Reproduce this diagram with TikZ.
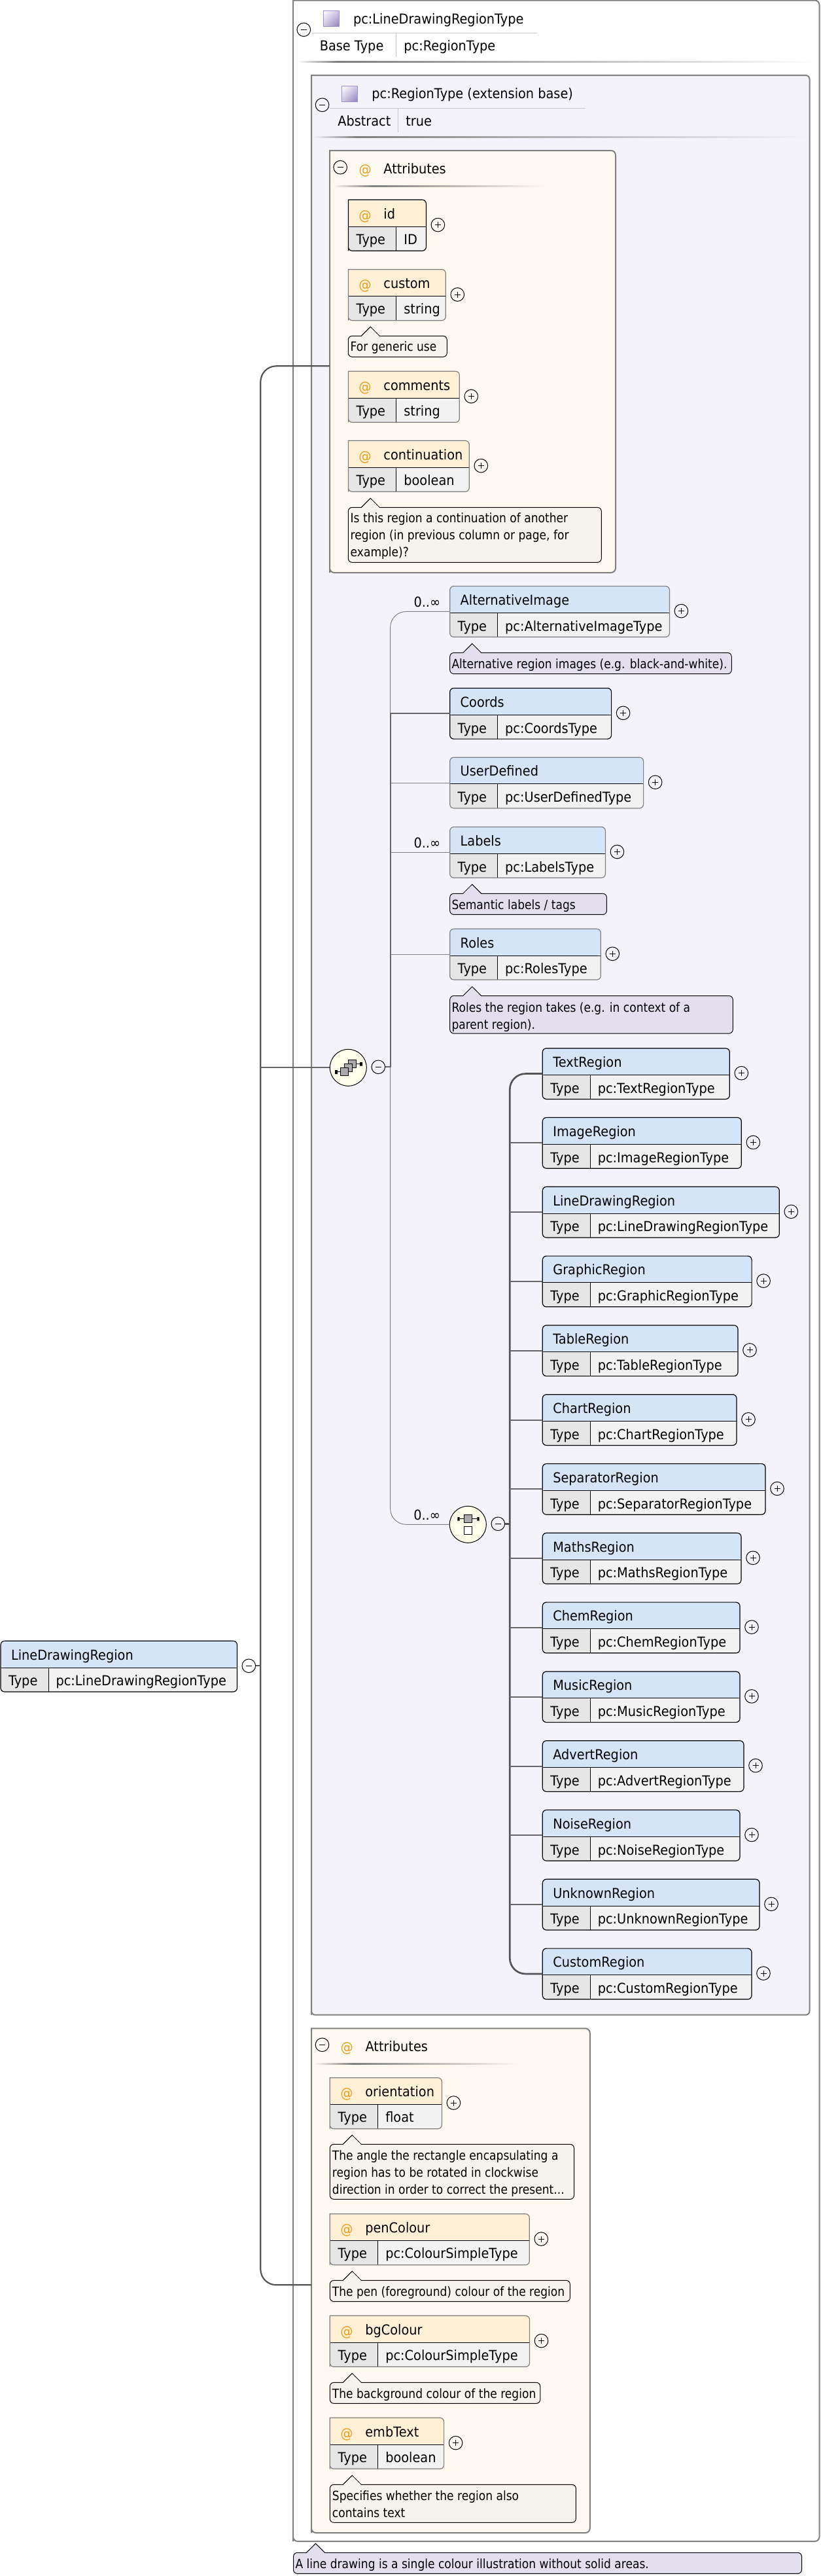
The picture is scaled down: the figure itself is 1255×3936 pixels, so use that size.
\documentclass[tikz,border=0pt]{standalone}
\usepackage{fontspec}
\usetikzlibrary{shadings}
\setmainfont{DejaVu Sans}[FakeStretch=0.92]
\newfontfamily\notefont{DejaVu Sans}[FakeStretch=0.876]
\definecolor{framegray}{HTML}{808080}
\definecolor{connc}{HTML}{666666}
\definecolor{spinec}{HTML}{555555}
\definecolor{noteA}{HTML}{F6F3EC}
\definecolor{noteB}{HTML}{E3DFEC}
\definecolor{bgpurple}{HTML}{F5F3FA}
\definecolor{cream}{HTML}{FEF9F0}
\definecolor{attrname}{HTML}{FFF0D6}
\definecolor{elname}{HTML}{D6E4F7}
\definecolor{typecell}{HTML}{E6E6E6}
\definecolor{valcell}{HTML}{F2F2F2}
\definecolor{atc}{HTML}{E8A020}
\definecolor{titleline}{HTML}{C8C8C8}
\definecolor{iconfill}{HTML}{FEFEEA}
\definecolor{icongray}{HTML}{AAAAAA}
\definecolor{swmid}{HTML}{D0C8E4}
\definecolor{swdark}{HTML}{8A7CB8}
\definecolor{swedge}{HTML}{A08FC8}
\tikzset{
  txt/.style={anchor=base west,inner sep=0pt,outer sep=0pt,font=\fontsize{21pt}{26pt}\selectfont,text=black},
  notetxt/.style={anchor=base west,inner sep=0pt,outer sep=0pt,font=\notefont\fontsize{19.5pt}{26pt}\selectfont,text=black},
  blocktxt/.style={notetxt,align=left},
  expnd/.style={circle,draw=black,line width=1pt,minimum size=20.6pt,inner sep=0pt,outer sep=0pt},
  expmark/.style={draw=black,line width=1pt},
  container/.style={draw=framegray,line width=2pt},
  conn/.style={draw=connc,line width=2pt},
  thinconn/.style={draw=framegray,line width=1pt},
  spineline/.style={draw=spinec,line width=2.7pt},
  rootline/.style={draw=spinec,line width=2.2pt},
  elcells/.style={fill=valcell,path picture={
    \fill[elname] (path picture bounding box.north west) rectangle ([yshift=-40.7pt]path picture bounding box.north east);
    \fill[typecell] ([yshift=-40.7pt]path picture bounding box.north west) rectangle ([xshift=73pt]path picture bounding box.south west);
    \draw[black,line width=1pt] ([yshift=-40.7pt]path picture bounding box.north west) -- ([yshift=-40.7pt]path picture bounding box.north east);
    \draw[black,line width=1pt] ([xshift=73pt,yshift=-40.7pt]path picture bounding box.north west) -- ([xshift=73pt]path picture bounding box.south west);
  }},
  atcells/.style={fill=valcell,path picture={
    \fill[attrname] (path picture bounding box.north west) rectangle ([yshift=-41pt]path picture bounding box.north east);
    \fill[typecell] ([yshift=-41pt]path picture bounding box.north west) rectangle ([xshift=73pt]path picture bounding box.south west);
    \draw[black,line width=1pt] ([yshift=-41pt]path picture bounding box.north west) -- ([yshift=-41pt]path picture bounding box.north east);
    \draw[black,line width=1pt] ([xshift=73pt,yshift=-41pt]path picture bounding box.north west) -- ([xshift=73pt]path picture bounding box.south west);
  }},
  elframe/.style={rectangle,rounded corners=6pt,line width=1.2pt,inner sep=0pt,outer sep=0pt,anchor=north west,elcells},
  iconbox/.style={draw=black,line width=1pt},
}
\newcommand{\plusc}[3]{\node[expnd] (#1) at ({#2},{#3}) {};
  \draw[expmark] ({#2-4.5},{#3}) -- ({#2+4.5},{#3});
  \draw[expmark] ({#2},{#3-4.5}) -- ({#2},{#3+4.5});}
\newcommand{\minusc}[3]{\node[expnd] (#1) at ({#2},{#3}) {};
  \draw[expmark] ({#2-4.5},{#3}) -- ({#2+4.5},{#3});}
% name, x, top, right, frame colour, title, type
\newcommand{\elemcore}[7]{%
  \node[elframe,draw=#5,minimum width={(#4-#2)*1pt},minimum height=77.7pt] (#1) at (#2,#3) {};
  \node[txt] (#1-name) at ({#2+16},{#3+28.7}) {#6};
  \node[txt] (#1-type) at ({#2+12},{#3+68.6}) {Type};
  \node[txt] (#1-val) at ({#2+84.5},{#3+68.6}) {#7};}
\newcommand{\elembox}[7]{\elemcore{#1}{#2}{#3}{#4}{#5}{#6}{#7}%
  \plusc{#1-plus}{#4+18}{#3+38}}
\newcommand{\attrbox}[7]{%
  \path[atcells,draw=#5,line width=1.2pt] (#2,{#3+78}) -- (#2,#3) [rounded corners=6pt] -- (#4,#3) -- (#4,{#3+78}) -- (#2,{#3+78}) [sharp corners] -- cycle;
  \node[txt,text=atc] (#1-at) at ({#2+16},{#3+30.7}) {@};
  \node[txt] (#1-name) at ({#2+54},{#3+28.7}) {#6};
  \node[txt] (#1-type) at ({#2+12.3},{#3+68}) {Type};
  \node[txt] (#1-val) at ({#2+85},{#3+68}) {#7};
  \plusc{#1-plus}{#4+18}{#3+38.3}}
% x0,y0,x1,y1,fill
\newcommand{\notebox}[5]{%
  \draw[fill=#5,draw=black,line width=1pt] ({#1+20},#2) -- ({#1+34},{#2-14}) -- ({#1+48},#2) [rounded corners=6pt] -- (#3,#2) -- (#3,#4) -- (#1,#4) -- (#1,#2) [sharp corners] -- ({#1+20},#2) -- cycle;}
% x0,xpeak,x1,y,bg
\newcommand{\gradline}[5]{%
  \shade[left color=#5,right color=framegray] (#1,{#4-1}) rectangle (#2,{#4+1});
  \shade[left color=framegray,right color=#5] (#2,{#4-1}) rectangle (#3,{#4+1});}
\newcommand{\swatch}[2]{%
  \shade[upper left=white,upper right=swmid,lower left=swmid,lower right=swdark] (#1,#2) rectangle ({#1+24},{#2+24.5});
  \draw[draw=swedge,line width=1pt] (#1,#2) rectangle ({#1+24},{#2+24.5});}
\begin{document}
\begin{tikzpicture}[x=1pt,y=-1pt]
\fill[white] (0,0) rectangle (1255,3936);
\useasboundingbox (0,0) rectangle (1255,3936);

% outer type container
\draw[container,fill=white] (448,3883) -- (448,0.5) [rounded corners=7pt] -- (1252.5,0.5) -- (1252.5,3883) -- (448,3883) [sharp corners] -- cycle;
\swatch{494.5}{16}
\node[txt] (outerTitle) at (540,36) {pc:LineDrawingRegionType};
\draw[titleline,line width=1pt] (476.5,50.7) -- (821,50.7);
\draw[titleline,line width=1pt] (605.5,51) -- (605.5,87);
\node[txt] (outerKey) at (488.8,77.7) {Base Type};
\node[txt] (outerVal) at (617.4,77.7) {pc:RegionType};
\minusc{outerMinus}{464.3}{45.3}
\gradline{453.6}{515}{1250}{94}{white}

% extension base container
\draw[container,fill=bgpurple] (476,3078.7) -- (476,115) [rounded corners=6pt] -- (1237.5,115) -- (1237.5,3078.7) -- (476,3078.7) [sharp corners] -- cycle;
\swatch{522.5}{131.3}
\node[txt] (baseTitle) at (568.4,150) {pc:RegionType (extension base)};
\draw[titleline,line width=1pt] (504,165.3) -- (895,165.3);
\draw[titleline,line width=1pt] (608.6,166) -- (608.6,202);
\node[txt] (baseKey) at (516.3,192.7) {Abstract};
\node[txt] (baseVal) at (620.4,192.7) {true};
\minusc{baseMinus}{492.6}{160.3}
\gradline{478.5}{545}{1236}{209}{bgpurple}

% first attributes group
\draw[container,fill=cream] (504,875) -- (504,230) [rounded corners=7pt] -- (941,230) -- (941,875) -- (504,875) [sharp corners] -- cycle;
\minusc{attrAMinus}{520.2}{255.7}
\node[txt,text=atc] (attrAat) at (548.5,266.5) {@};
\node[txt] (attrATitle) at (586.4,265) {Attributes};
\gradline{509}{570}{832}{284}{cream}
\attrbox{id}{532.4}{305.3}{651.4}{black}{id}{ID}
\attrbox{custom}{532.4}{411.7}{681.3}{framegray}{custom}{string}
\notebox{532.3}{513.3}{683.3}{545.3}{noteA}
\node[notetxt] (customNote) at (535.7,536.5) {For generic use};
\attrbox{comments}{532.4}{567.3}{702.3}{framegray}{comments}{string}
\attrbox{continuation}{532.4}{673.3}{717.3}{framegray}{continuation}{boolean}
\notebox{532.3}{775.3}{919.3}{859.3}{noteA}
\node[blocktxt] (contNote) at (535.7,850.7) {Is this region a continuation of another\\region (in previous column or page, for\\example)?};

% sequence members
\node[txt] (occA) at (632.5,927.8) {0..∞};
\elembox{altimg}{687.7}{895.6}{1023.4}{framegray}{AlternativeImage}{pc:AlternativeImageType}
\notebox{687.7}{997.4}{1118.3}{1029.6}{noteB}
\node[notetxt] (altNote) at (690.5,1021) {Alternative region images (e.g. black-and-white).};
\elembox{coords}{687.7}{1051.4}{934.6}{black}{Coords}{pc:CoordsType}
\elembox{userdef}{687.7}{1157.2}{983.6}{framegray}{UserDefined}{pc:UserDefinedType}
\node[txt] (occB) at (632.5,1295.6) {0..∞};
\elembox{labels}{687.7}{1263.5}{925.4}{framegray}{Labels}{pc:LabelsType}
\notebox{687.7}{1365.3}{927.4}{1397.4}{noteB}
\node[notetxt] (labelsNote) at (690.5,1389) {Semantic labels / tags};
\elembox{roles}{687.7}{1419.3}{918.3}{framegray}{Roles}{pc:RolesType}
\notebox{687.7}{1521.5}{1120.3}{1579}{noteB}
\node[blocktxt] (rolesNote) at (690.5,1572) {Roles the region takes (e.g. in context of a\\parent region).};

% sequence compositor
\node[circle,draw=black,line width=1pt,fill=iconfill,minimum size=56pt,inner sep=0pt,outer sep=0pt] (seq) at (532.3,1631.3) {};
\draw[black,line width=1pt] (544.7,1625.7) -- (550,1625.7) (516,1637.7) -- (520.3,1637.7);
\fill[black] (550,1623) rectangle (554,1628.7) (512,1635) rectangle (516,1641);
\draw[iconbox,fill=icongray] (532.3,1619.3) rectangle (544.7,1631.3);
\draw[iconbox,fill=icongray] (526.3,1625.3) rectangle (538.3,1637.3);
\draw[iconbox,fill=icongray] (520.3,1631.3) rectangle (532.7,1643.3);
\minusc{seqMinus}{578.3}{1630.3}

% choice compositor
\node[txt] (occC) at (632.3,2322.7) {0..∞};
\node[circle,draw=black,line width=1pt,fill=iconfill,minimum size=56pt,inner sep=0pt,outer sep=0pt] (choice) at (715.3,2329.3) {};
\draw[black,line width=1pt] (702.7,2320.7) -- (729.3,2320.7);
\fill[black] (699.3,2318) rectangle (702.7,2323.7) (729.3,2318) rectangle (732.7,2323.7);
\draw[iconbox,fill=icongray] (709.3,2314.3) rectangle (721.7,2326.7);
\draw[iconbox,fill=white] (709.3,2332.3) rectangle (721.7,2344.7);
\minusc{choiceMinus}{761.3}{2328.3}

% choice members
\elembox{rText}{829.3}{1601.7}{1115.3}{black}{TextRegion}{pc:TextRegionType}
\elembox{rImage}{829.3}{1707.5}{1133.3}{black}{ImageRegion}{pc:ImageRegionType}
\elembox{rLine}{829.3}{1813.3}{1191.3}{black}{LineDrawingRegion}{pc:LineDrawingRegionType}
\elembox{rGraphic}{829.3}{1919.1}{1149.1}{black}{GraphicRegion}{pc:GraphicRegionType}
\elembox{rTable}{829.3}{2024.9}{1128}{black}{TableRegion}{pc:TableRegionType}
\elembox{rChart}{829.3}{2130.7}{1126}{black}{ChartRegion}{pc:ChartRegionType}
\elembox{rSep}{829.3}{2236.5}{1170}{black}{SeparatorRegion}{pc:SeparatorRegionType}
\elembox{rMaths}{829.3}{2342.3}{1133}{black}{MathsRegion}{pc:MathsRegionType}
\elembox{rChem}{829.3}{2448.1}{1131}{black}{ChemRegion}{pc:ChemRegionType}
\elembox{rMusic}{829.3}{2553.9}{1131}{black}{MusicRegion}{pc:MusicRegionType}
\elembox{rAdvert}{829.3}{2659.7}{1137}{black}{AdvertRegion}{pc:AdvertRegionType}
\elembox{rNoise}{829.3}{2765.5}{1131}{black}{NoiseRegion}{pc:NoiseRegionType}
\elembox{rUnknown}{829.3}{2871.3}{1161}{black}{UnknownRegion}{pc:UnknownRegionType}
\elembox{rCustom}{829.3}{2977.1}{1149}{black}{CustomRegion}{pc:CustomRegionType}

% second attributes group
\draw[container,fill=cream] (476,3870) -- (476,3099.3) [rounded corners=7pt] -- (901.8,3099.3) -- (901.8,3870) -- (476,3870) [sharp corners] -- cycle;
\minusc{attrBMinus}{492.5}{3124.3}
\node[txt,text=atc] (attrBat) at (520.5,3135.5) {@};
\node[txt] (attrBTitle) at (558.6,3134) {Attributes};
\gradline{480}{540}{794.6}{3153}{cream}
\attrbox{orientation}{504.3}{3174.7}{675.4}{framegray}{orientation}{float}
\notebox{504.3}{3276.3}{877.5}{3360.3}{noteA}
\node[blocktxt] (orientNote) at (507.9,3352) {The angle the rectangle encapsulating a\\region has to be rotated in clockwise\\direction in order to correct the present...};
\attrbox{penColour}{504.3}{3382.7}{809.3}{framegray}{penColour}{pc:ColourSimpleType}
\notebox{504.3}{3484.3}{871.4}{3516.5}{noteA}
\node[notetxt] (penNote) at (507.9,3508.3) {The pen (foreground) colour of the region};
\attrbox{bgColour}{504.3}{3538.3}{809.5}{framegray}{bgColour}{pc:ColourSimpleType}
\notebox{504.3}{3640.3}{825.8}{3672.3}{noteA}
\node[notetxt] (bgNote) at (507.9,3664) {The background colour of the region};
\attrbox{embText}{504.3}{3694.3}{678.6}{framegray}{embText}{boolean}
\notebox{504.3}{3796.3}{880.4}{3854.3}{noteA}
\node[blocktxt] (embNote) at (507.9,3846) {Specifies whether the region also\\contains text};

% type note
\notebox{448.5}{3900.3}{1225.5}{3932.3}{noteB}
\node[notetxt] (typeNote) at (451.5,3924) {A line drawing is a single colour illustration without solid areas.};

% root element
\elemcore{root}{1}{2507.3}{362.5}{black}{LineDrawingRegion}{pc:LineDrawingRegionType}
\minusc{rootMinus}{380.3}{2545.3}

% connectors
\coordinate (attrsA) at (504,559.3);
\coordinate (attrsB) at (476,3491.3);
\coordinate (rootSpine) at (398.3,2545.3);
\coordinate (seqSpine) at (596.7,1630.3);
\coordinate (chSpine) at (779.3,2328.3);
\draw[rootline,rounded corners=24pt] (attrsA) -| (rootSpine) |- (attrsB);
\draw[rootline] (rootMinus.east) -- (rootSpine);
\draw[conn] (seq.west) -- (seq.west -| rootSpine);
\draw[thinconn,rounded corners=24pt] (altimg.west) -| (seqSpine) |- (choice.west);
\draw[conn] (coords.west) -| (seqSpine) -- (seqMinus.east);
\foreach \n in {userdef,labels,roles} \draw[thinconn] (\n.west) -- (\n.west -| seqSpine);
\draw[spineline,rounded corners=24pt] (rText.west) -| (chSpine) |- (rCustom.west);
\draw[spineline] (choiceMinus.east) -- (chSpine);
\foreach \n in {rImage,rLine,rGraphic,rTable,rChart,rSep,rMaths,rChem,rMusic,rAdvert,rNoise,rUnknown} \draw[conn] (\n.west) -- (\n.west -| chSpine);
\end{tikzpicture}
\end{document}
